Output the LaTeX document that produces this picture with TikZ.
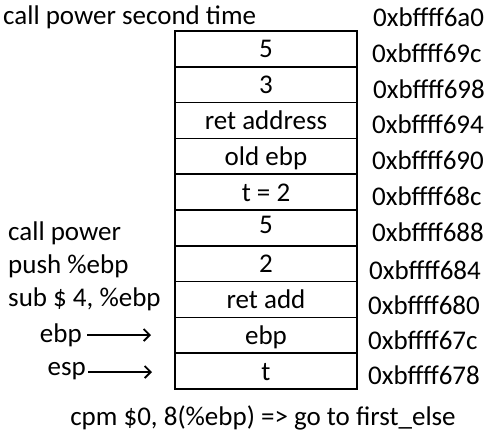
\documentclass[tikz,border=0pt]{standalone}
\usepackage{fontspec}
\setmainfont{Carlito}
\usetikzlibrary{arrows.meta}
\tikzstyle{cell}=[draw,line width=1.5pt,minimum width=182pt,minimum height=35.8pt,inner sep=0pt,text height=20pt,text depth=2pt]
\tikzstyle{addr}=[anchor=west,inner sep=0pt]
\tikzstyle{note}=[anchor=west,inner sep=0pt]
\tikzstyle{pointer}=[line width=1.6pt,-{Straight Barb[length=6pt,width=12pt,line width=1.8pt]}]

\begin{document}
\begin{tikzpicture}[x=1pt,y=-1pt,font=\fontsize{27}{32}\selectfont]
\useasboundingbox (0,0) rectangle (496,439);
% stack cells
\node[cell] at (266, 48.9) (c1) {5};
\node[cell] at (266, 84.7) (c2) {3};
\node[cell] at (266, 120.5) (c3) {ret address};
\node[cell] at (266, 156.3) (c4) {old ebp};
\node[cell] at (266, 192.1) (c5) {t = 2};
\node[cell] at (266, 227.9) (c6) {\raisebox{3pt}{5}};
\node[cell] at (266, 263.7) (c7) {2};
\node[cell] at (266, 299.5) (c8) {ret add};
\node[cell] at (266, 335.3) (c9) {ebp};
\node[cell] at (266, 371.1) (c10) {t};
% addresses
\node[addr] at (373, 17) (a0) {0xbffff6a0};
\node[addr] at (372, 53) (a1) {0xbffff69c};
\node[addr] at (373, 89) (a2) {0xbffff698};
\node[addr] at (372, 124) (a3) {0xbffff694};
\node[addr] at (372, 160) (a4) {0xbffff690};
\node[addr] at (372, 196) (a5) {0xbffff68c};
\node[addr] at (372, 232) (a6) {0xbffff688};
\node[addr] at (369, 270) (a7) {0xbffff684};
\node[addr] at (368, 305) (a8) {0xbffff680};
\node[addr] at (368, 340) (a9) {0xbffff67c};
\node[addr] at (368, 375) (a10) {0xbffff678};
% notes
\node[note] at (3, 17) (second) {call power second time};
\node[note] at (8, 233) (call) {call power};
\node[note] at (8, 266) (push) {push \%ebp};
\node[note] at (8, 299) (sub) {sub \$ 4, \%ebp};
\node[anchor=east,inner sep=0pt] at (82, 335) (ebp) {ebp};
\node[anchor=east,inner sep=0pt] at (86, 371) (esp) {esp};
\coordinate (ebpstart) at (87, 335);
\coordinate (espstart) at (88, 372);
\coordinate (ebpend) at (151, 335);
\coordinate (espend) at (152, 372);
\draw[pointer] (ebpstart) -- (ebpend);
\draw[pointer] (espstart) -- (espend);
\node at (263, 418) (cmp) {cpm \$0, 8(\%ebp) => go to first\_else};
\end{tikzpicture}
\end{document}
